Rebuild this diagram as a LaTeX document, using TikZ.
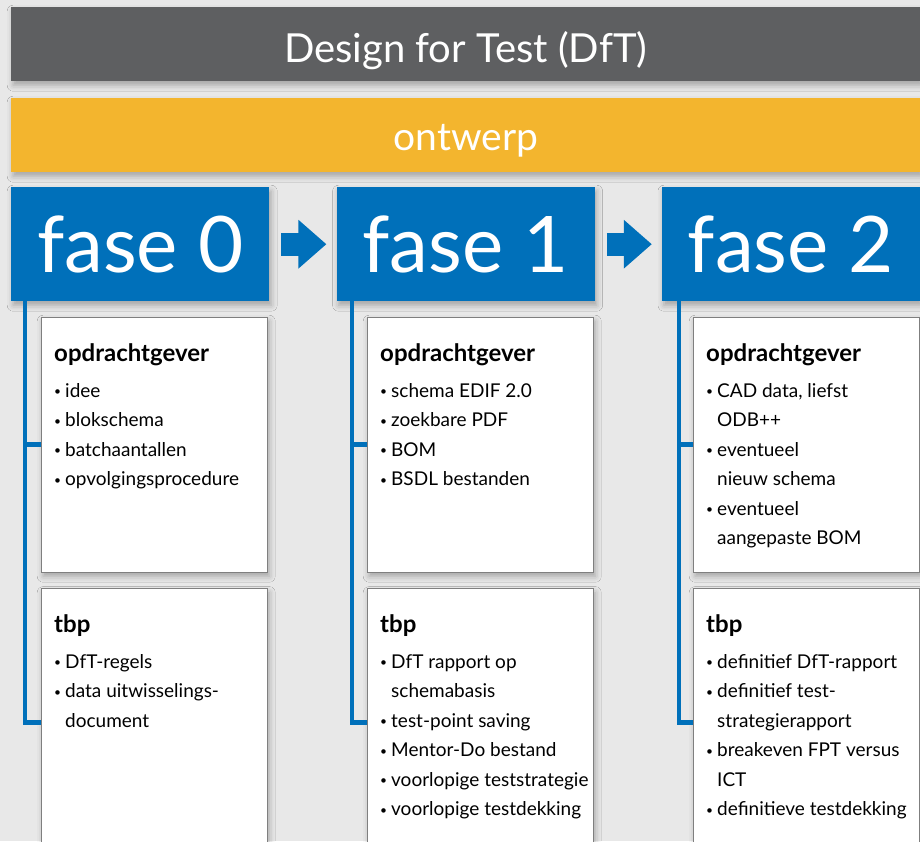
\documentclass[tikz,border=0pt]{standalone}
\usepackage{fontspec}
\setmainfont{Lato}
\usepackage{tikz}
\usetikzlibrary{positioning, calc, arrows.meta, shadows.blur}
\definecolor{DftGrey}{HTML}{5E5F61}
\definecolor{DftYellow}{HTML}{F3B52E}
\definecolor{DftBlue}{HTML}{0070BA}
\definecolor{PageGrey}{HTML}{E8E8E8}
\definecolor{CardLine}{HTML}{7F7F7F}
\newcommand{\bul}{\makebox[11pt][l]{\raisebox{1.5pt}{\fontsize{12}{12}\selectfont\textbullet}}}
\newcommand{\ind}{\hspace*{11pt}}
\newcommand{\kop}[1]{{\fontsize{24}{29.5}\selectfont\bfseries #1}}

\begin{document}
\begin{tikzpicture}[x=1pt, y=1pt, every node/.style={font=\fontsize{19}{29.5}\selectfont}]
    \tikzstyle{soft} = [blur shadow={shadow xshift=2pt, shadow yshift=-4pt, shadow blur radius=6pt, shadow opacity=30}]
    \tikzstyle{bar} = [rectangle, anchor=north west, inner sep=0pt, text=white, minimum width=909pt, minimum height=74pt, text depth=0pt, soft]
    \tikzstyle{phase} = [rectangle, fill=DftBlue, text=white, anchor=north west, minimum width=258pt, minimum height=114pt, inner sep=0pt, font=\fontsize{78}{78}\selectfont, soft]
    \tikzstyle{card} = [rectangle, draw=CardLine, fill=white, anchor=north west, minimum width=226pt, minimum height=255pt, inner sep=0pt, soft]
    \tikzstyle{cardtext} = [anchor=north west, align=left, inner sep=0pt]
    \tikzstyle{rail} = [draw, DftBlue, line width=4.5pt]
    \tikzstyle{flow} = [draw, DftBlue, line width=23pt, -{Triangle[length=28pt, width=47pt]}, shorten <=12pt, shorten >=10pt]

    \useasboundingbox (0,0) rectangle (920,-841);
    \fill [PageGrey] (0,0) rectangle (920,-841);

    \node [bar, fill=DftGrey, text height=36pt, font=\fontsize{40}{40}\selectfont] (title) at (11,-7) {Design for Test (DfT)};
    \node [bar, fill=DftYellow, text height=30pt, font=\fontsize{39}{39}\selectfont] (design) at (11,-98) {ontwerp};

    \node [phase] (f0) at (11,-187) {fase 0};
    \node [phase, right=67pt of f0] (f1) {fase 1};
    \node [phase, right=67pt of f1] (f2) {fase 2};

    \path [flow] (f0) -- (f1);
    \path [flow] (f1) -- (f2);

    \coordinate (r0) at (25,-301);
    \coordinate (r1) at (352,-301);
    \coordinate (r2) at (679,-301);
    \coordinate (oc0) at (41,-317);
    \coordinate (oc1) at (367,-317);
    \coordinate (oc2) at (693,-317);
    \foreach \i in {0,1,2} {
        \node [card] (c\i) at (oc\i) {};
        \node [card, minimum height=270pt, below=16pt of c\i.south west, anchor=north west] (t\i) {};
        \path [rail] (r\i) |- ([yshift=-134pt]t\i.north west);
        \path [rail] (c\i.west) -- (c\i.west -| r\i);
    }

    \node [cardtext] (ct0) at ([shift={(13,-26)}]c0.north west) {\kop{opdrachtgever}\\[6.5pt]
        \bul idee\\ \bul blokschema\\ \bul batchaantallen\\ \bul opvolgingsprocedure};
    \node [cardtext] (ct1) at ([shift={(13,-26)}]c1.north west) {\kop{opdrachtgever}\\[6.5pt]
        \bul schema EDIF 2.0\\ \bul zoekbare PDF\\ \bul BOM\\ \bul BSDL bestanden};
    \node [cardtext] (ct2) at ([shift={(13,-26)}]c2.north west) {\kop{opdrachtgever}\\[6.5pt]
        \bul CAD data, liefst\\ \ind ODB++\\ \bul eventueel\\ \ind nieuw schema\\ \bul eventueel\\ \ind aangepaste BOM};

    \node [cardtext] (tx0) at ([shift={(13,-26)}]t0.north west) {\kop{tbp}\\[6.5pt]
        \bul DfT-regels\\ \bul data uitwisselings-\\ \ind document};
    \node [cardtext] (tx1) at ([shift={(13,-26)}]t1.north west) {\kop{tbp}\\[6.5pt]
        \bul DfT rapport op\\ \ind schemabasis\\ \bul test-point saving\\ \bul Mentor-Do bestand\\ \bul voorlopige teststrategie\\ \bul voorlopige testdekking};
    \node [cardtext] (tx2) at ([shift={(13,-26)}]t2.north west) {\kop{tbp}\\[6.5pt]
        \bul definitief DfT-rapport\\ \bul definitief test-\\ \ind strategierapport\\ \bul breakeven FPT versus\\ \ind ICT\\ \bul definitieve testdekking};
\end{tikzpicture}
\end{document}
